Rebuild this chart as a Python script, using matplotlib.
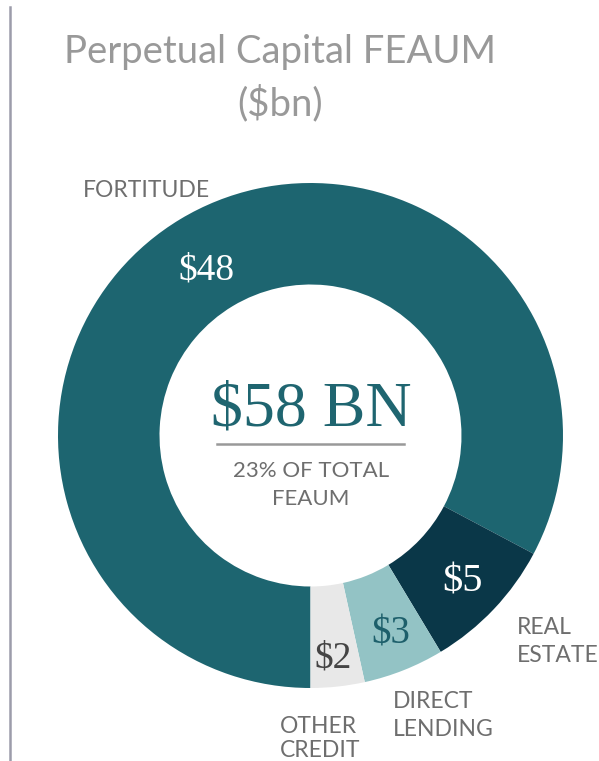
import matplotlib
matplotlib.use("Agg")
import matplotlib.pyplot as plt
from matplotlib.lines import Line2D

categories = ["FORTITUDE", "REAL ESTATE", "DIRECT LENDING", "OTHER CREDIT"]
values = [48, 5, 3, 2]
value_labels = ["$48", "$5", "$3", "$2"]
colors = ["#1D6570", "#0A3748", "#93C3C5", "#E8E8E8"]
label_colors = ["#FFFFFF", "#FFFFFF", "#1D5F6B", "#444444"]
title = "Perpetual Capital FEAUM\n($bn)"
center_value = "$58 BN"
center_sub = "23% OF TOTAL\nFEAUM"

W, H = 599, 761
fig = plt.figure(figsize=(W / 100, H / 100), dpi=100)
fig.patch.set_facecolor("white")

def fx(x):
    return x / W

def fy(y):
    return 1 - y / H

# donut axes: center (310.5, 435.5), outer radius 252.5 px
cx, cy, R = 310.5, 435.5, 252.5
ax = fig.add_axes([fx(cx - R), fy(cy + R), 2 * R / W, 2 * R / H])
wedges, _ = ax.pie(values, colors=colors, startangle=270, counterclock=False,
                   radius=1, wedgeprops=dict(width=0.402, linewidth=0))
ax.set_xlim(-1, 1)
ax.set_ylim(-1, 1)
ax.set_aspect("auto")
ax.axis("off")

# left vertical rule
fig.add_artist(Line2D([fx(10), fx(10)], [fy(7), fy(760)], color="#9C9CAA", lw=1.8))

# title
tl = title.split("\n")
fig.text(fx(280), fy(63), tl[0], ha="center", va="baseline", fontsize=27.5,
         color="#999999", family="Lato")
fig.text(fx(280), fy(115), tl[1], ha="center", va="baseline", fontsize=27.5,
         color="#999999", family="Lato")

# center text
fig.text(fx(311), fy(425), center_value, ha="center", va="baseline", fontsize=46,
         color="#1F6570", family="Liberation Serif")
fig.add_artist(Line2D([fx(217), fx(404)], [fy(444), fy(444)], color="#999999", lw=1.8))
sl = center_sub.split("\n")
fig.text(fx(311), fy(477), sl[0], ha="center", va="baseline", fontsize=16,
         color="#6E6E6E", family="Lato")
fig.text(fx(311), fy(505), sl[1], ha="center", va="baseline", fontsize=16,
         color="#6E6E6E", family="Lato")

# value labels
val_pos = [(206, 280, 27), (463, 592, 29), (391, 644, 28), (333, 668, 27)]
for lab, col, (x, y, s) in zip(value_labels, label_colors, val_pos):
    fig.text(fx(x), fy(y), lab, ha="center", va="baseline", fontsize=s,
             color=col, family="Liberation Serif")

# category labels
cat_lines = [
    (["FORTITUDE"], 146, [197], "center"),
    (["REAL", "ESTATE"], 517, [634, 662], "left"),
    (["DIRECT", "LENDING"], 393, [708, 736], "left"),
    (["OTHER", "CREDIT"], 280, [733, 757], "left"),
]
for lines, x, ys, ha in cat_lines:
    for ln, y in zip(lines, ys):
        fig.text(fx(x), fy(y), ln, ha=ha, va="baseline", fontsize=16.5,
                 color="#6E6E6E", family="Lato")

fig.savefig("out.png", dpi=100, facecolor="white")
